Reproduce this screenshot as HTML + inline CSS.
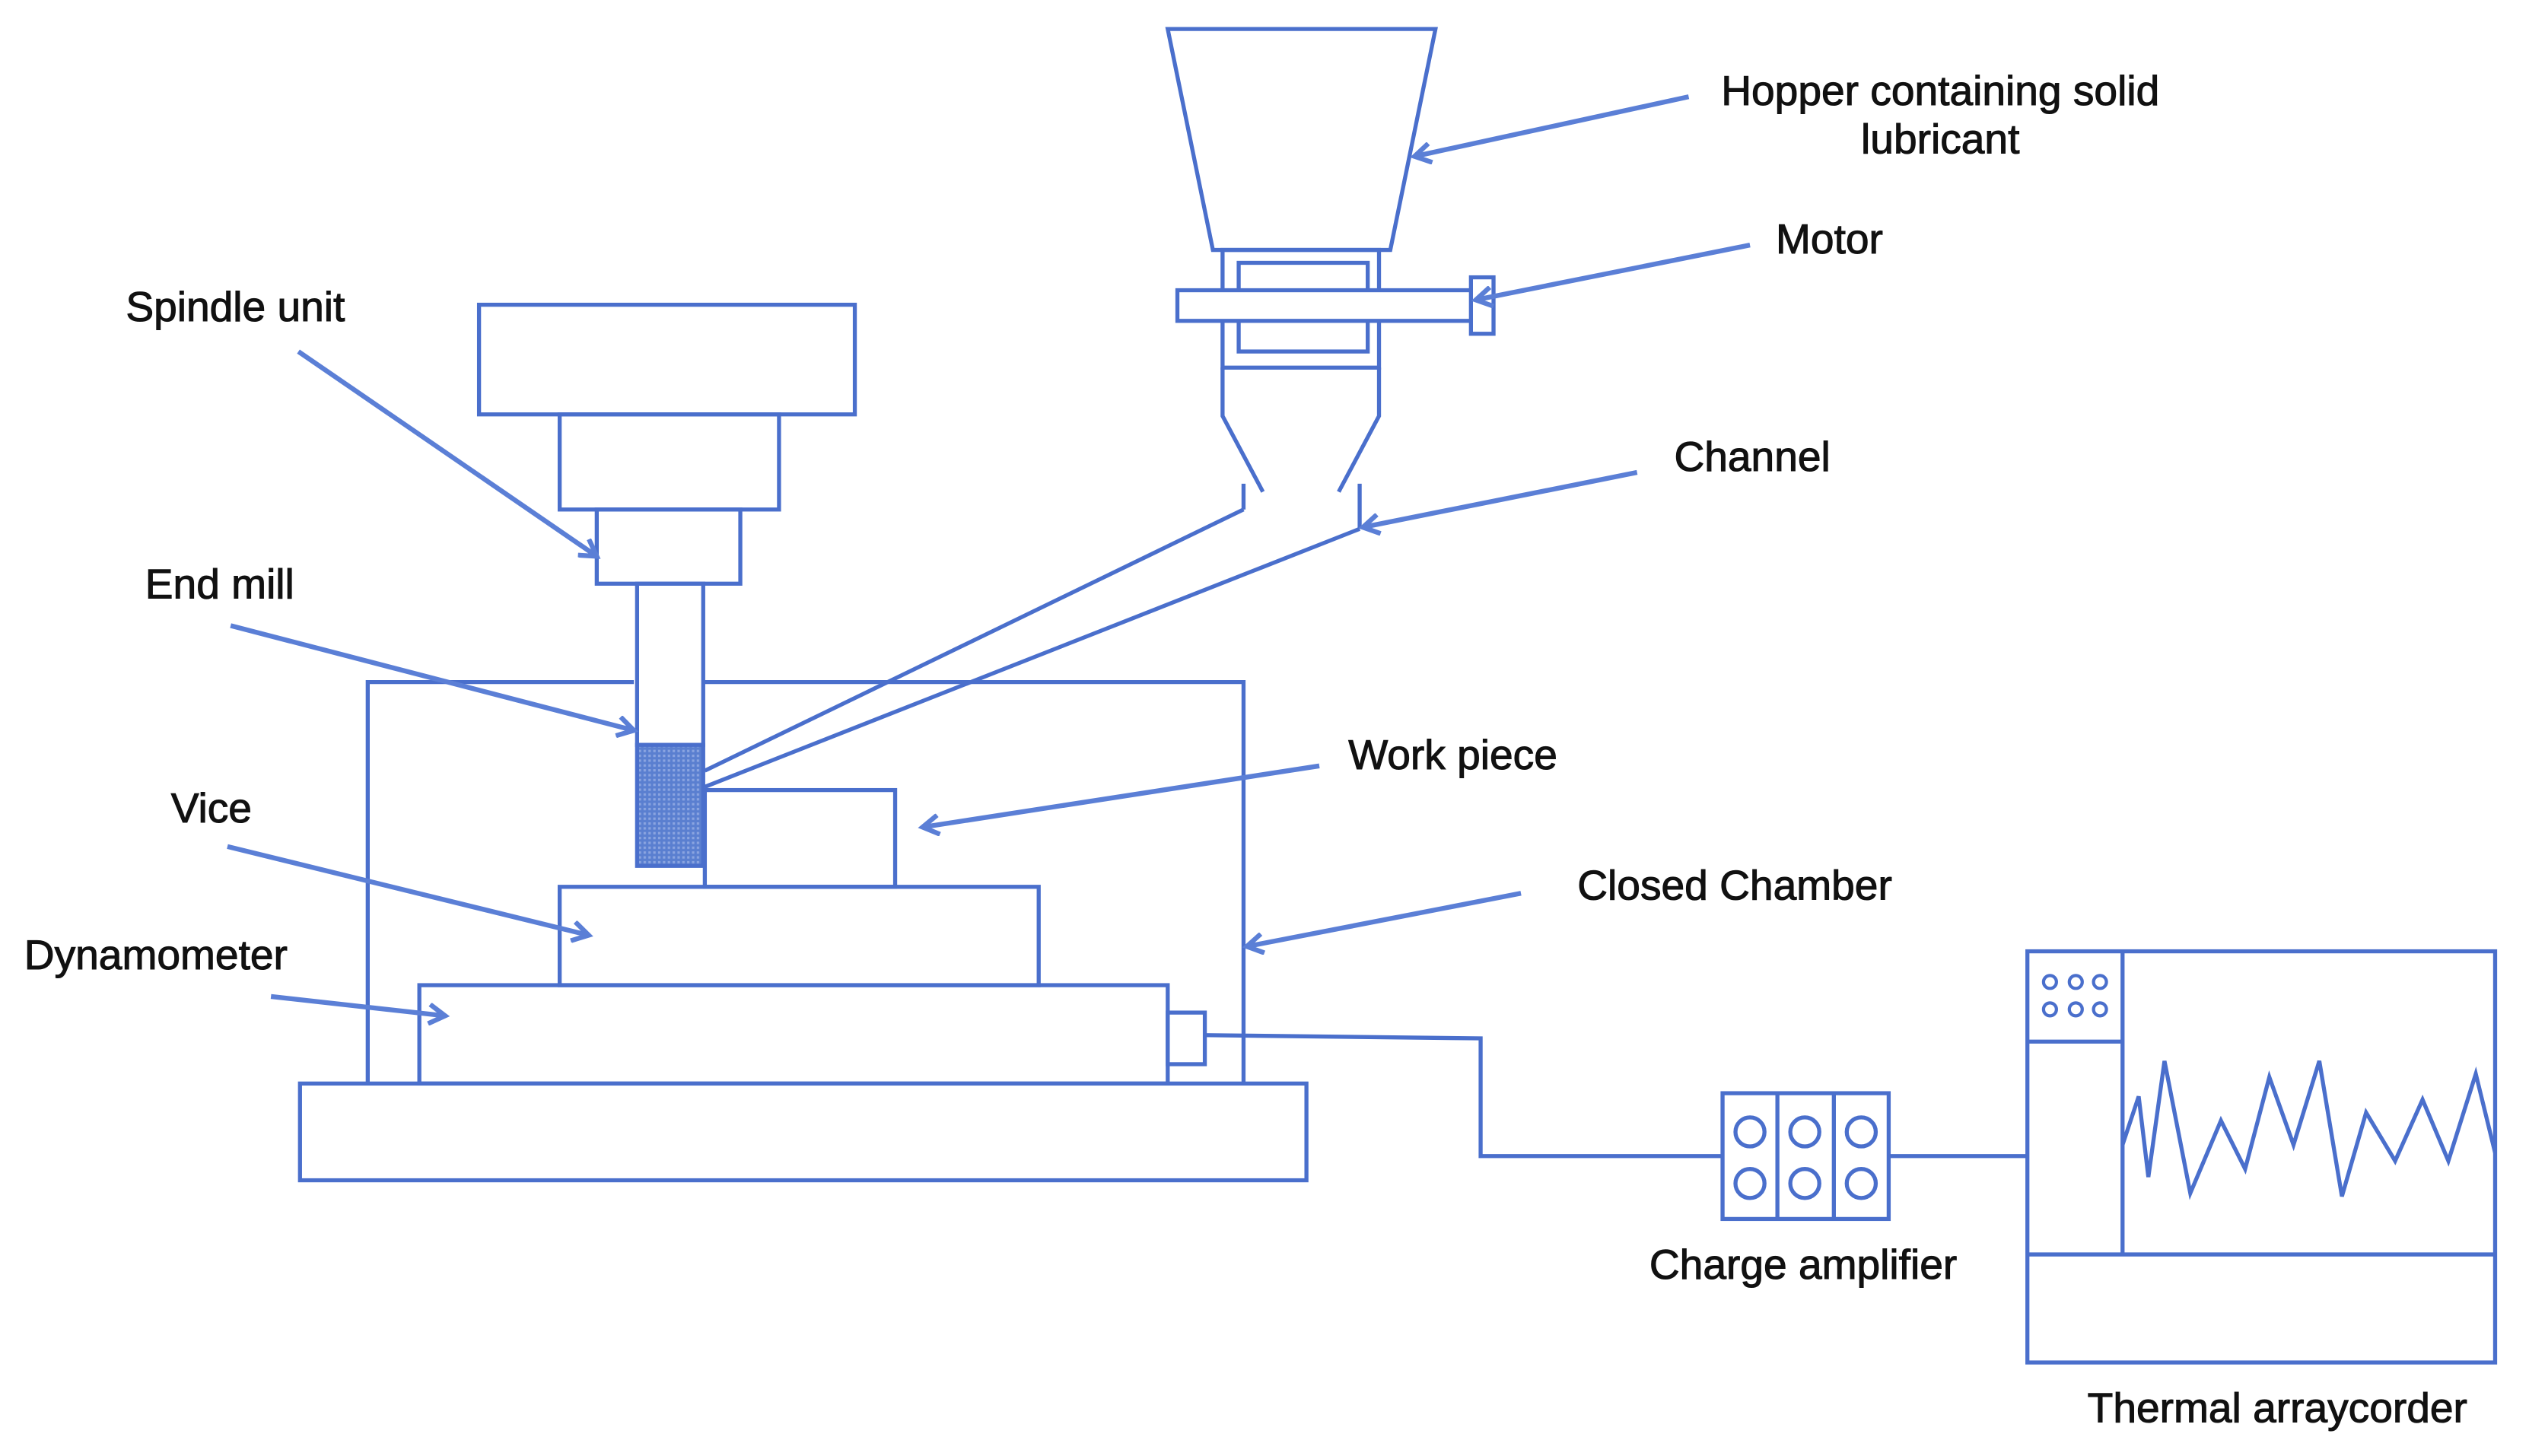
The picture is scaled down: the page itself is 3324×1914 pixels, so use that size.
<!DOCTYPE html>
<html><head><meta charset="utf-8"><style>
html,body{margin:0;padding:0;background:#fff;}
svg{display:block;}
text{font-family:"Liberation Sans",Arial,sans-serif;font-size:26px;fill:#111;stroke:#111;stroke-width:0.5;}
</style></head><body>
<svg width="3324" height="1914" viewBox="0 0 1568 903" preserveAspectRatio="none" xmlns="http://www.w3.org/2000/svg">
<defs>
<marker id="ah" markerWidth="14" markerHeight="14" refX="11" refY="7" orient="auto" markerUnits="userSpaceOnUse">
<path d="M1,1 L11,7 L1,13" fill="none" stroke="#5b7fd6" stroke-width="3"/>
</marker>
<pattern id="dots" width="3" height="3" patternUnits="userSpaceOnUse"><rect width="3" height="3" fill="#5a7fd0"/><rect width="1.5" height="1.5" fill="#8aa4e0"/></pattern>
</defs>
<g fill="none" stroke="#4a6fcc" stroke-width="2.5">
<polygon points="724,18 890,18 862,155 752,155"/>
<rect x="758" y="155" width="97" height="73"/>
<rect x="768" y="163" width="80" height="55"/>
<rect x="730" y="180" width="185" height="19" fill="#fff"/>
<rect x="912" y="172" width="14" height="35" fill="#fff"/>
<polyline points="758,228 758,258 783,305"/>
<polyline points="855,228 855,258 830,305"/>
<line x1="771" y1="300" x2="771" y2="316"/>
<line x1="843" y1="300" x2="843" y2="328"/>
<line x1="771" y1="316" x2="437" y2="478"/>
<line x1="843" y1="328" x2="437" y2="488"/>
<rect x="297" y="189" width="233" height="68"/>
<rect x="347" y="257" width="136" height="59"/>
<rect x="370" y="316" width="89" height="46"/>
<rect x="395" y="362" width="41" height="100"/>
<rect x="395" y="462" width="41" height="75" fill="url(#dots)"/>
<polyline points="228,672 228,423 393,423"/>
<polyline points="436,423 771,423 771,672"/>
<rect x="437" y="490" width="118" height="60"/>
<rect x="347" y="550" width="297" height="61"/>
<rect x="260" y="611" width="464" height="61"/>
<rect x="724" y="628" width="23" height="32"/>
<rect x="186" y="672" width="624" height="60"/>
<polyline points="747,642 918,644 918,717 1068,717"/>
<rect x="1068" y="678" width="103" height="78"/>
<line x1="1102" y1="678" x2="1102" y2="756"/>
<line x1="1137" y1="678" x2="1137" y2="756"/>
<circle cx="1085" cy="702" r="9"/><circle cx="1119" cy="702" r="9"/><circle cx="1154" cy="702" r="9"/>
<circle cx="1085" cy="734" r="9"/><circle cx="1119" cy="734" r="9"/><circle cx="1154" cy="734" r="9"/>
<line x1="1171" y1="717" x2="1257" y2="717"/>
<rect x="1257" y="590" width="290" height="255"/>
<line x1="1316" y1="590" x2="1316" y2="778"/>
<line x1="1257" y1="646" x2="1316" y2="646"/>
<line x1="1257" y1="778" x2="1547" y2="778"/>
<g stroke-width="2">
<circle cx="1271" cy="609" r="4"/><circle cx="1287" cy="609" r="4"/><circle cx="1302" cy="609" r="4"/>
<circle cx="1271" cy="626" r="4"/><circle cx="1287" cy="626" r="4"/><circle cx="1302" cy="626" r="4"/>
</g>
<polyline points="1316,710 1326,680 1332,730 1342,658 1358,740 1377,695 1392,725 1407,668 1422,710 1438,658 1452,742 1467,690 1485,720 1502,682 1518,720 1535,666 1547,715"/>
</g>
<g stroke="#5b7fd6" stroke-width="3" marker-end="url(#ah)">
<line x1="1047" y1="60" x2="877" y2="97"/>
<line x1="1085" y1="152" x2="915" y2="186"/>
<line x1="185" y1="218" x2="370" y2="345"/>
<line x1="1015" y1="293" x2="845" y2="327"/>
<line x1="143" y1="388" x2="393" y2="453"/>
<line x1="818" y1="475" x2="572" y2="513"/>
<line x1="141" y1="525" x2="365" y2="580"/>
<line x1="943" y1="554" x2="773" y2="587"/>
<line x1="168" y1="618" x2="276" y2="630"/>
</g>
<text x="1203" y="65" text-anchor="middle">Hopper containing solid</text>
<text x="1203" y="95" text-anchor="middle">lubricant</text>
<text x="1101" y="157">Motor</text>
<text x="78" y="199">Spindle unit</text>
<text x="1038" y="292">Channel</text>
<text x="90" y="371">End mill</text>
<text x="836" y="477">Work piece</text>
<text x="106" y="510">Vice</text>
<text x="978" y="558">Closed Chamber</text>
<text x="15" y="601">Dynamometer</text>
<text x="1118" y="793" text-anchor="middle">Charge amplifier</text>
<text x="1412" y="882" text-anchor="middle">Thermal arraycorder</text>
</svg>
</body></html>
